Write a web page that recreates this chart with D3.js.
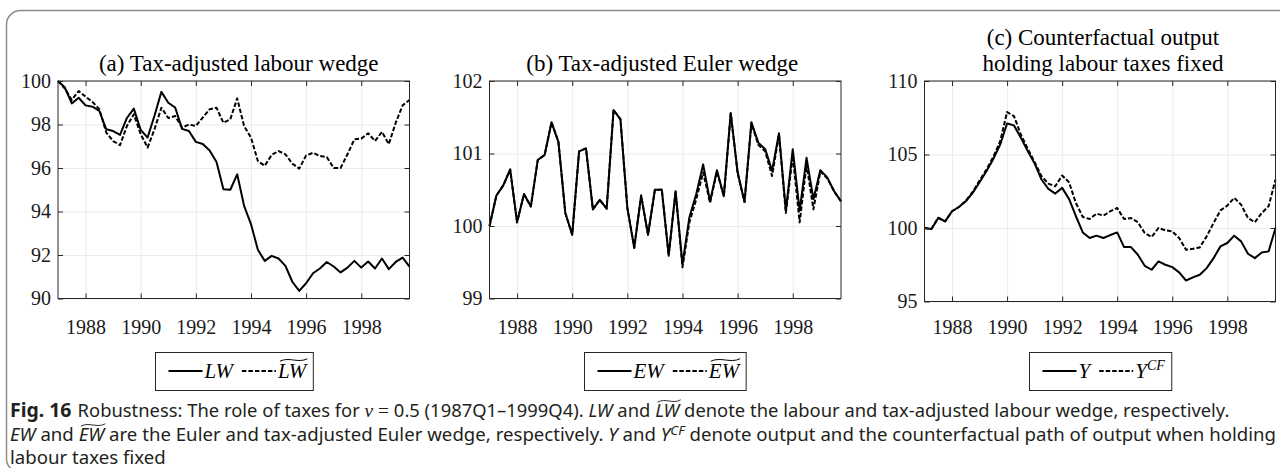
<!DOCTYPE html>
<html>
<head>
<meta charset="utf-8">
<script src="https://cdn.jsdelivr.net/npm/d3@7"></script>
<style>
body { margin: 0; background: #fff; }
svg { display: block; }
</style>
</head>
<body>
<svg id="fig" width="1280" height="468"></svg>
<script>
// quarterly dates 1987Q1 .. 1999Q4
const quarters = d3.range(52).map(i => 1987 + i / 4)
const yearTicks = [1988, 1990, 1992, 1994, 1996, 1998]

// (a) labour wedge and tax-adjusted labour wedge
const lw = [100, 99.7, 98.97, 99.23, 98.88, 98.82, 98.62, 97.78, 97.7, 97.52,
    98.3, 98.73, 97.75, 97.4, 98.4, 99.5, 99.0, 98.78, 97.8, 97.7,
    97.2, 97.1, 96.8, 96.28, 95.02, 95.0, 95.71, 94.26, 93.42, 92.24,
    91.73, 91.96, 91.84, 91.5, 90.77, 90.35, 90.7, 91.16, 91.38, 91.68,
    91.47, 91.2, 91.42, 91.73, 91.42, 91.7, 91.38, 91.84, 91.35, 91.68,
    91.88, 91.47]
const lwTilde = [100, 99.65, 99.13, 99.54, 99.28, 99.04, 98.7, 97.63, 97.24, 97.05,
    97.93, 98.47, 97.55, 96.94, 97.78, 98.77, 98.3, 98.39, 97.86, 98.0,
    97.93, 98.32, 98.7, 98.77, 98.08, 98.24, 99.2, 97.93, 97.4, 96.32,
    96.1, 96.6, 96.78, 96.63, 96.2, 95.97, 96.58, 96.7, 96.55, 96.5,
    96.0, 96.0, 96.63, 97.32, 97.35, 97.6, 97.24, 97.66, 97.1, 98.08,
    98.88, 99.13]

// (b) Euler wedge and tax-adjusted Euler wedge
const ew = [100, 100.42, 100.56, 100.78, 100.05, 100.44, 100.27, 100.91, 100.98, 101.43,
    101.16, 100.18, 99.88, 101.03, 101.07, 100.23, 100.36, 100.24, 101.6, 101.47,
    100.25, 99.7, 100.42, 99.88, 100.5, 100.5, 99.59, 100.48, 99.47, 100.12,
    100.44, 100.85, 100.34, 100.77, 100.41, 101.56, 100.74, 100.33, 101.43, 101.15,
    101.06, 100.76, 101.28, 100.21, 101.06, 100.21, 100.94, 100.37, 100.77, 100.67,
    100.48, 100.34]
const ewTilde = [100, 100.42, 100.56, 100.78, 100.05, 100.44, 100.27, 100.91, 100.98, 101.43,
    101.16, 100.18, 99.88, 101.03, 101.07, 100.23, 100.36, 100.24, 101.6, 101.47,
    100.25, 99.7, 100.42, 99.88, 100.5, 100.5, 99.6, 100.47, 99.43, 100.05,
    100.37, 100.74, 100.32, 100.75, 100.41, 101.55, 100.73, 100.33, 101.42, 101.12,
    101.03, 100.69, 101.26, 100.18, 100.97, 100.05, 100.85, 100.23, 100.75, 100.66,
    100.48, 100.34]

// (c) output and counterfactual output
const output = [100.0, 99.93, 100.68, 100.45, 101.14, 101.43, 101.82, 102.39, 103.11, 103.86,
    104.7, 105.68, 107.11, 106.98, 106.14, 105.23, 104.39, 103.3, 102.66, 102.34,
    102.73, 101.98, 100.8, 99.7, 99.32, 99.48, 99.32, 99.52, 99.7, 98.7,
    98.7, 98.18, 97.43, 97.16, 97.73, 97.5, 97.34, 96.98, 96.43, 96.64,
    96.82, 97.27, 97.95, 98.75, 98.98, 99.48, 99.09, 98.25, 97.95, 98.34,
    98.41, 100.0]
const outputCF = [100.0, 99.93, 100.7, 100.45, 101.14, 101.43, 101.85, 102.45, 103.23, 103.98,
    104.84, 105.9, 107.89, 107.61, 106.36, 105.39, 104.48, 103.52, 103.02, 102.84,
    103.57, 103.11, 101.7, 100.75, 100.61, 100.98, 100.84, 101.14, 101.36, 100.61,
    100.68, 100.39, 99.66, 99.39, 100.0, 99.84, 99.77, 99.32, 98.52, 98.59,
    98.68, 99.43, 100.34, 101.2, 101.52, 102.05, 101.59, 100.68, 100.39, 101.02,
    101.48, 103.3]

const ticksA = [90, 92, 94, 96, 98, 100]
const ticksB = [99, 100, 101, 102]
const ticksC = [95, 100, 105, 110]

const captionLines = [
    [["Fig. 16", "b"], ["Robustness: The role of taxes for ", "", 6], ["ν", "mi"], [" = ", "m"],
     ["0.5 (1987Q1–1999Q4). ", ""], ["LW", "i"], [" and ", ""], ["LW", "it"],
     [" denote the labour and tax-adjusted labour wedge, respectively.", ""]],
    [["EW", "i"], [" and ", ""], ["EW", "it"], [" are the Euler and tax-adjusted Euler wedge, respectively. ", ""],
     ["Y", "i"], [" and ", ""], ["Y", "i"], ["CF", "is"],
     [" denote output and the counterfactual path of output when holding", ""]],
    [["labour taxes fixed", ""]]
]
const captionWidths = [1214, 1267, null]

const serif = "'Liberation Serif', 'Times New Roman', serif"
const sans = "'Noto Sans', 'Open Sans', sans-serif"
const dashed = "4.5,2"

const svg = d3.select("#fig")

svg.append("rect")
    .attr("x", 6.5).attr("y", 10.5)
    .attr("width", 1300).attr("height", 462)
    .attr("rx", 14)
    .attr("fill", "none")
    .attr("stroke", "#8c8c8c")
    .attr("stroke-width", 1.5)

function tildePath(x1, x2, y) {
    const w = x2 - x1
    return `M${x1},${y + 1.2} C${x1 + w * 0.35},${y - 3.5} ${x2 - w * 0.35},${y + 3.5} ${x2},${y - 1.2}`
}

function drawPanel(p) {
    const x = d3.scaleLinear().domain([1987, 1999.75]).range([p.left, p.right])
    const y = d3.scaleLinear().domain(p.yDomain).range([p.bottom, p.top])
    const w = p.right - p.left
    const h = p.bottom - p.top
    const g = svg.append("g")

    // grid
    g.append("g")
        .attr("transform", `translate(0,${p.bottom})`)
        .call(d3.axisBottom(x).tickValues(yearTicks).tickSize(-h).tickFormat(""))
        .call(s => s.select(".domain").remove())
        .selectAll("line").attr("stroke", "#ebebeb")
    g.append("g")
        .attr("transform", `translate(${p.left},0)`)
        .call(d3.axisLeft(y).tickValues(p.yTicks).tickSize(-w).tickFormat(""))
        .call(s => s.select(".domain").remove())
        .selectAll("line").attr("stroke", "#ebebeb")

    const line = d3.line()
        .x((d, i) => x(quarters[i]))
        .y(d => y(d))

    p.series.forEach(s => {
        g.append("path")
            .datum(s.values)
            .attr("d", line)
            .attr("fill", "none")
            .attr("stroke", "#000")
            .attr("stroke-width", 2)
            .attr("stroke-linejoin", "round")
            .attr("stroke-dasharray", s.dash)
    })

    // axes, ticks pointing inward
    const axes = g.append("g")
        .attr("font-family", serif)
        .attr("font-size", 20)
    axes.append("g")
        .attr("transform", `translate(0,${p.bottom})`)
        .call(d3.axisBottom(x).tickValues(yearTicks).tickSizeInner(-5).tickSizeOuter(0)
            .tickPadding(p.xPad).tickFormat(d3.format("d")))
    axes.append("g")
        .attr("transform", `translate(${p.left},0)`)
        .call(d3.axisLeft(y).tickValues(p.yTicks).tickSizeInner(-5).tickSizeOuter(0)
            .tickPadding(7).tickFormat(d3.format("d")))
    axes.append("g")
        .attr("transform", `translate(0,${p.top})`)
        .call(d3.axisTop(x).tickValues(yearTicks).tickSizeInner(-5).tickSizeOuter(0).tickFormat(""))
    axes.append("g")
        .attr("transform", `translate(${p.right},0)`)
        .call(d3.axisRight(y).tickValues(p.yTicks).tickSizeInner(-5).tickSizeOuter(0).tickFormat(""))

    axes.selectAll(".domain").remove()
    axes.selectAll(".tick line").attr("stroke", "#262626")
    axes.selectAll(".tick text")
        .attr("fill", "#1a1a1a")
        .style("font-family", serif)
        .style("font-size", "20px")

    g.append("rect")
        .attr("x", p.left).attr("y", p.top)
        .attr("width", w).attr("height", h)
        .attr("fill", "none")
        .attr("stroke", "#262626")
        .attr("stroke-width", 1)

    // title
    p.title.forEach((t, i) => {
        svg.append("text")
            .attr("x", (p.left + p.right) / 2 + p.titleDx)
            .attr("y", p.titleY[i])
            .attr("text-anchor", "middle")
            .style("font-family", serif)
            .style("font-size", "23px")
            .text(t)
    })

    // legend
    const lg = svg.append("g")
    const top = 352, bh = 38
    const ly = top + bh / 2, base = ly + 7
    let cx = 13
    p.series.forEach(s => {
        lg.append("line")
            .attr("x1", cx).attr("x2", cx + 34)
            .attr("y1", ly).attr("y2", ly)
            .attr("stroke", "#000").attr("stroke-width", 2)
            .attr("stroke-dasharray", s.dash)
        cx += 36
        const t = lg.append("text")
            .attr("x", cx).attr("y", base)
            .style("font-family", serif)
            .style("font-size", "21px")
            .style("font-style", "italic")
        s.label.forEach(part => {
            const ts = t.append("tspan").text(part[0])
            if (part[1] === "sup") ts.attr("dy", -8).style("font-size", "14px")
        })
        const tw = t.node().getComputedTextLength()
        if (s.tilde) {
            lg.append("path")
                .attr("d", tildePath(cx + 2, cx + tw + 1, base - 18))
                .attr("fill", "none").attr("stroke", "#000").attr("stroke-width", 1)
        }
        cx += tw + 9
    })
    const bw = cx - 2
    lg.insert("rect", ":first-child")
        .attr("x", 0).attr("y", top + 0.5)
        .attr("width", bw).attr("height", bh)
        .attr("fill", "#fff").attr("stroke", "#262626").attr("stroke-width", 1)
    lg.attr("transform", `translate(${Math.round((p.left + p.right) / 2 - bw / 2) + 0.5},0)`)
}

drawPanel({
    left: 58, right: 409.5, top: 81, bottom: 298.5, xPad: 21,
    yDomain: [90, 100], yTicks: ticksA,
    title: ["(a) Tax-adjusted labour wedge"], titleY: [71], titleDx: 5,
    series: [
        { values: lw, dash: null, label: [["LW"]], tilde: false },
        { values: lwTilde, dash: dashed, label: [["LW"]], tilde: true }
    ]
})
drawPanel({
    left: 489.5, right: 841, top: 81, bottom: 298.5, xPad: 21,
    yDomain: [99, 102], yTicks: ticksB,
    title: ["(b) Tax-adjusted Euler wedge"], titleY: [71], titleDx: -3,
    series: [
        { values: ew, dash: null, label: [["EW"]], tilde: false },
        { values: ewTilde, dash: dashed, label: [["EW"]], tilde: true }
    ]
})
drawPanel({
    left: 924.5, right: 1275.5, top: 81, bottom: 301.5, xPad: 18,
    yDomain: [95, 110], yTicks: ticksC,
    title: ["(c) Counterfactual output", "holding labour taxes fixed"], titleY: [45, 71], titleDx: 3,
    series: [
        { values: output, dash: null, label: [["Y"]], tilde: false },
        { values: outputCF, dash: dashed, label: [["Y"], ["CF", "sup"]], tilde: false }
    ]
})

// caption, each line squeezed to the width it has in the figure
const capBase = [417, 441, 464]
let lastK = 1
captionLines.forEach((segs, li) => {
    const lineG = svg.append("g")
    const t = lineG.append("text")
        .attr("x", 0).attr("y", capBase[li])
        .attr("xml:space", "preserve")
        .style("white-space", "pre")
        .style("font-family", sans)
        .style("font-size", "18px")
        .attr("fill", "#231f20")
    let idx = 0, raise = false
    const tildes = []
    segs.forEach(s => {
        const ts = t.append("tspan").text(s[0])
        const kind = s[1]
        if (kind.includes("b")) ts.style("font-weight", 700).style("font-size", "19px")
        if (kind.includes("i")) ts.style("font-style", "italic")
        if (kind.includes("m")) ts.style("font-family", serif).style("font-size", "19px")
        if (s[2]) ts.attr("dx", s[2])
        if (kind.includes("s")) {
            ts.attr("dy", -6).style("font-size", "13px")
            raise = true
        } else if (raise) {
            ts.attr("dy", 6)
            raise = false
        }
        if (kind.includes("t")) tildes.push([idx, s[0].length])
        idx += s[0].length
    })
    const node = t.node()
    tildes.forEach(([i, n]) => {
        const x1 = node.getStartPositionOfChar(i).x
        const x2 = node.getEndPositionOfChar(i + n - 1).x
        lineG.append("path")
            .attr("d", tildePath(x1 + 2, x2 + 1, capBase[li] - 16))
            .attr("fill", "none").attr("stroke", "#231f20").attr("stroke-width", 0.9)
    })
    const target = captionWidths[li]
    const k = target ? target / node.getComputedTextLength() : lastK
    lastK = k
    lineG.attr("transform", `translate(10,0) scale(${k},1)`)
})
</script>
</body>
</html>
